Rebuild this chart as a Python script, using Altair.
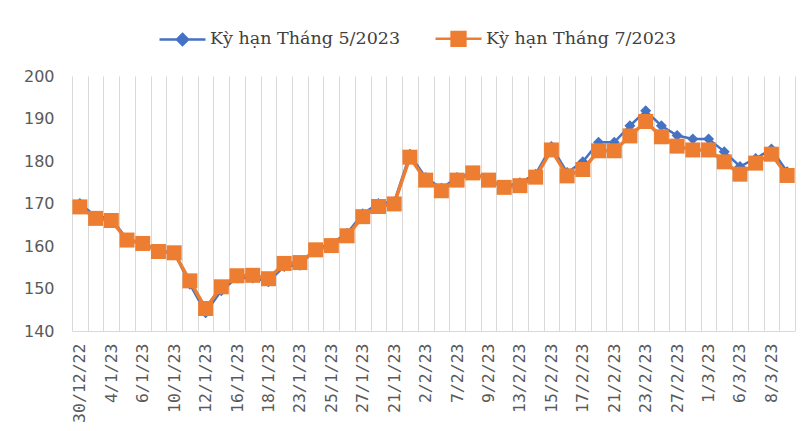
import json
import altair as alt
import pandas as pd

dates = ["30/12/22", "3/1/23", "4/1/23", "5/1/23", "6/1/23", "9/1/23", "10/1/23", "11/1/23",
         "12/1/23", "13/1/23", "16/1/23", "17/1/23", "18/1/23", "19/1/23", "23/1/23", "24/1/23",
         "25/1/23", "26/1/23", "27/1/23", "30/1/23", "21/1/23", "1/2/23", "2/2/23", "3/2/23",
         "7/2/23", "8/2/23", "9/2/23", "10/2/23", "13/2/23", "14/2/23", "15/2/23", "16/2/23",
         "17/2/23", "20/2/23", "21/2/23", "22/2/23", "23/2/23", "24/2/23", "27/2/23", "28/2/23",
         "1/3/23", "2/3/23", "6/3/23", "7/3/23", "8/3/23", "9/3/23"]
shown_labels = dates[::2]

k5 = [170.0, 167.0, 166.5, 161.6, 160.8, 158.9, 158.5, 151.0, 144.3, 149.5,
      152.5, 152.5, 151.6, 155.2, 155.5, 159.3, 160.6, 163.0, 167.6, 170.0,
      170.4, 181.6, 176.1, 173.6, 176.1, 177.3, 175.7, 174.0, 174.9, 176.9,
      183.4, 177.3, 179.8, 184.4, 184.4, 188.3, 191.8, 188.3, 186.0, 185.2,
      185.2, 182.2, 178.7, 180.6, 182.8, 177.5]
k7 = [169.2, 166.5, 166.0, 161.4, 160.6, 158.7, 158.4, 151.8, 145.3, 150.4,
      153.0, 153.1, 152.3, 155.9, 156.1, 159.1, 160.1, 162.4, 166.9, 169.3,
      169.9, 180.9, 175.5, 173.0, 175.5, 177.2, 175.5, 173.8, 174.2, 176.2,
      182.6, 176.5, 178.0, 182.4, 182.4, 185.9, 189.3, 185.7, 183.5, 182.6,
      182.6, 179.8, 176.9, 179.5, 181.6, 176.6]

S5 = "Kỳ hạn Tháng 5/2023"
S7 = "Kỳ hạn Tháng 7/2023"
series_names = [S5, S7]
colors = ["#4472C4", "#ED7D31"]
y_ticks = [140, 150, 160, 170, 180, 190, 200]

df = pd.DataFrame({
    "date": dates + dates,
    "value": k5 + k7,
    "series": [S5] * len(dates) + [S7] * len(dates),
})

label_expr = "indexof(" + json.dumps(shown_labels) + ", datum.value) >= 0 ? datum.value : ''"

x_enc = alt.X(
    "date:N", sort=dates,
    scale=alt.Scale(type="band", paddingInner=0, paddingOuter=0),
    axis=alt.Axis(title=None, tickBand="extent", grid=True, gridColor="#D9D9D9", gridWidth=1,
                  ticks=False, domainColor="#D9D9D9", domainWidth=1,
                  labelAngle=270, labelExpr=label_expr, labelOverlap=False,
                  labelFont="DejaVu Sans Mono", labelFontSize=16.5, labelColor="#595959",
                  labelPadding=12),
)
y_enc = alt.Y(
    "value:Q",
    scale=alt.Scale(domain=[140, 200], nice=False, zero=False),
    axis=alt.Axis(title=None, values=y_ticks, grid=False, domain=False, ticks=False,
                  labelFont="DejaVu Sans", labelFontSize=16, labelColor="#595959",
                  labelPadding=18),
)

base = alt.Chart(df).encode(x=x_enc, y=y_enc)

line5 = base.transform_filter(alt.datum.series == S5).mark_line(color=colors[0], strokeWidth=2.5)
pts5 = base.transform_filter(alt.datum.series == S5).mark_point(
    shape="diamond", filled=True, size=121, color=colors[0], opacity=1)
line7 = base.transform_filter(alt.datum.series == S7).mark_line(color=colors[1], strokeWidth=3.5)
pts7 = base.transform_filter(alt.datum.series == S7).mark_point(
    shape="square", filled=True, size=225, color=colors[1], opacity=1)

legend_paths = [
    "M-1,0L1,0M0,-0.24L0.24,0L0,0.24L-0.24,0Z",
    "M-1,0L1,0M-0.3,-0.3L0.3,-0.3L0.3,0.3L-0.3,0.3Z",
]
leg = alt.Legend(title=None)
legend_layer = base.mark_point(filled=True, opacity=0).encode(
    fill=alt.Fill("series:N", scale=alt.Scale(domain=series_names, range=colors), legend=leg),
    stroke=alt.Stroke("series:N", scale=alt.Scale(domain=series_names, range=colors), legend=leg),
    shape=alt.Shape("series:N", scale=alt.Scale(domain=series_names, range=legend_paths), legend=leg),
)

chart = alt.layer(line5, pts5, line7, pts7, legend_layer).properties(
    width=723, height=255,
    autosize=alt.AutoSizeParams(type="none"),
    padding={"left": 64, "top": 68, "right": 5, "bottom": 95},
).configure_view(stroke=None).configure_legend(
    orient="none", legendX=86, legendY=-62, direction="horizontal",
    symbolSize=2116, symbolStrokeWidth=2.5, symbolOpacity=1,
    labelFont="DejaVu Serif", labelFontSize=17.5, labelColor="#404040",
    labelOffset=3, columnPadding=29, labelLimit=400,
)

chart.save("out.html", embed_options={"renderer": "svg", "actions": False})
